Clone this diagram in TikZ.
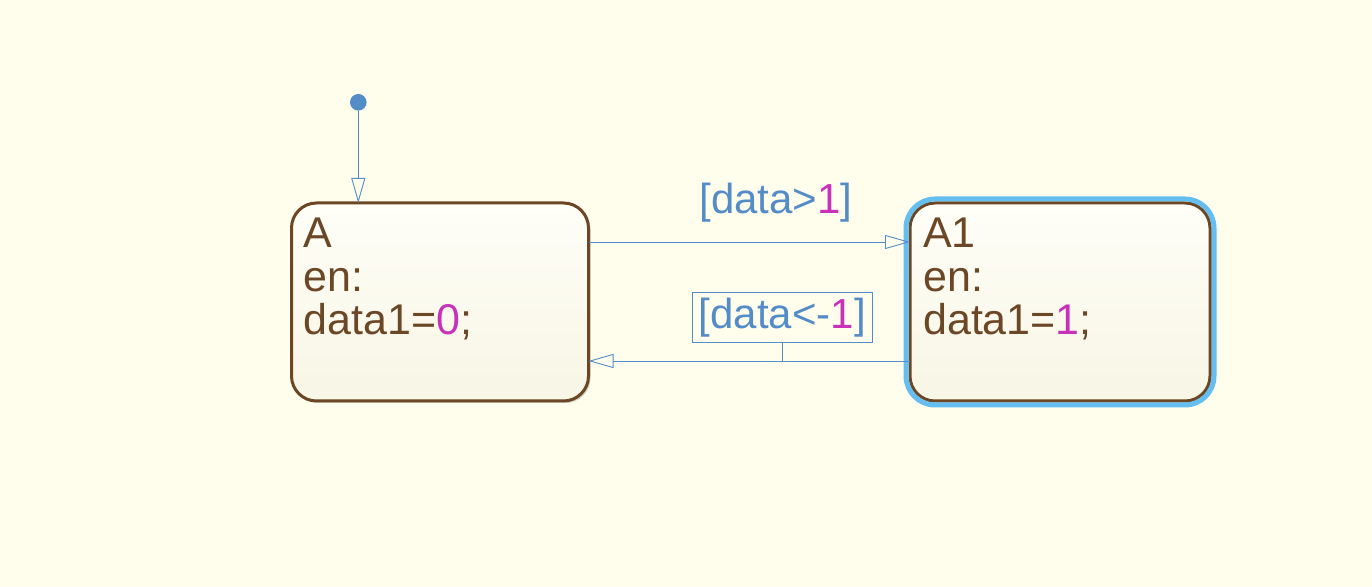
\documentclass[tikz,border=0pt]{standalone}
\usepackage{fontspec}
\setmainfont{Liberation Sans}
\usepackage{xcolor}
\usepackage{tikz}
\usetikzlibrary{arrows.meta, shadows}
\definecolor{chartbg}{HTML}{FFFDEC}
\definecolor{statebrown}{HTML}{6B4726}
\definecolor{transblue}{HTML}{548CC8}
\definecolor{valpink}{HTML}{C832B9}
\definecolor{activeblue}{HTML}{64BEF0}
\tikzstyle{state} = [rectangle, rounded corners=25pt, draw=statebrown, line width=3pt,
    minimum width=297pt, minimum height=198pt, outer sep=0pt,
    top color=white!60!chartbg, bottom color=black!3!chartbg,
    drop shadow={shadow xshift=2pt, shadow yshift=-2pt, opacity=0.18, fill=black}]
\tikzstyle{statetext} = [anchor=north west, inner sep=0pt, align=left, text=statebrown,
    font=\fontsize{43}{43.5}\selectfont]
\tikzstyle{trans} = [line width=0.9pt, draw=transblue,
    -{Triangle[open, length=25pt, width=14pt]}]
\tikzstyle{guard} = [text=transblue, font=\fontsize{42}{44}\selectfont,
    inner xsep=6.5pt, inner ysep=5.5pt, outer sep=0pt]

\begin{document}
\begin{tikzpicture}[x=1pt, y=1pt, node distance=620pt]
    \fill[chartbg] (0,0) rectangle (1372,586);
    \useasboundingbox (0,0) rectangle (1372,586);

    \node (A) [state] at (440,284) {};
    \node (A1) [state, right of=A, minimum width=300pt] {};
    \draw[activeblue, line width=5pt, rounded corners=29pt]
        ([shift={(-4pt,4pt)}]A1.north west) rectangle ([shift={(4pt,-4pt)}]A1.south east);

    \node (Atext) [statetext] at ([shift={(12pt,-15pt)}]A.north west)
        {A\\en:\\data1=\textcolor{valpink}{0};};
    \node (A1text) [statetext] at ([shift={(13pt,-15pt)}]A1.north west)
        {A1\\en:\\data1=\textcolor{valpink}{1};};

    % Default transition
    \node (init) [circle, fill=transblue, inner sep=0pt, minimum size=16.6pt] at (358.3,483.7) {};
    \draw[trans] (init) -- (init |- A.north);

    % Edges
    \draw[trans] ([yshift=60pt]A.east) --
        node[guard, pos=0.583, anchor=base, yshift=28.4pt] {[data>\textcolor{valpink}{1}]}
        ([yshift=60pt]A1.west);
    \draw[trans] ([yshift=-59pt]A1.west) -- coordinate[pos=0.397] (g2) ([yshift=-59pt]A.east);
    \node (guard2) [guard, draw=transblue, line width=0.8pt, above of=g2, node distance=43.3pt]
        {[data<-\textcolor{valpink}{1}]};
    \draw[transblue, line width=0.8pt] (guard2.south) -- (g2);
\end{tikzpicture}
\end{document}
